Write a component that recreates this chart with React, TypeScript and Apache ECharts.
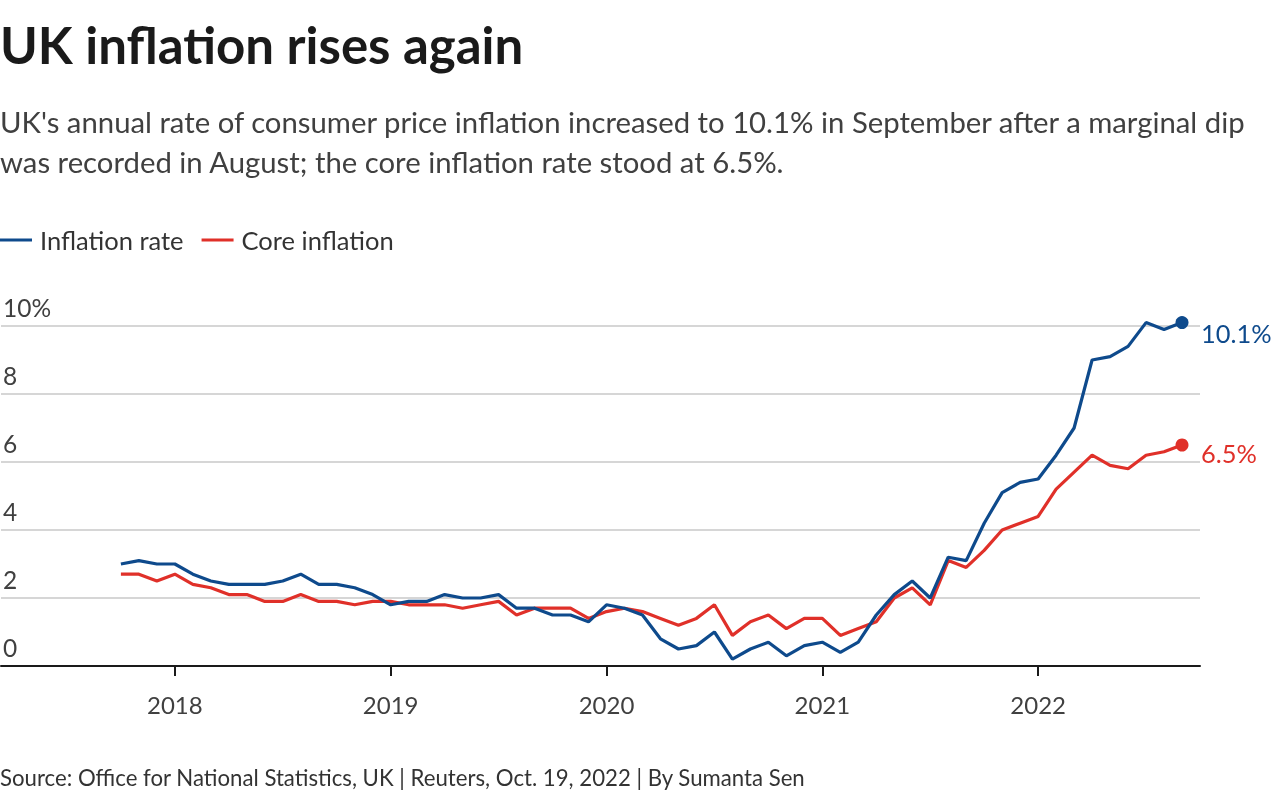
import React, { useEffect, useRef } from "react";
import * as echarts from "echarts";

const months: string[] = [
  "2017-10", "2017-11", "2017-12",
  "2018-01", "2018-02", "2018-03", "2018-04", "2018-05", "2018-06", "2018-07", "2018-08", "2018-09", "2018-10", "2018-11", "2018-12",
  "2019-01", "2019-02", "2019-03", "2019-04", "2019-05", "2019-06", "2019-07", "2019-08", "2019-09", "2019-10", "2019-11", "2019-12",
  "2020-01", "2020-02", "2020-03", "2020-04", "2020-05", "2020-06", "2020-07", "2020-08", "2020-09", "2020-10", "2020-11", "2020-12",
  "2021-01", "2021-02", "2021-03", "2021-04", "2021-05", "2021-06", "2021-07", "2021-08", "2021-09", "2021-10", "2021-11", "2021-12",
  "2022-01", "2022-02", "2022-03", "2022-04", "2022-05", "2022-06", "2022-07", "2022-08", "2022-09",
];

const inflationRate: number[] = [
  3.0, 3.1, 3.0,
  3.0, 2.7, 2.5, 2.4, 2.4, 2.4, 2.5, 2.7, 2.4, 2.4, 2.3, 2.1,
  1.8, 1.9, 1.9, 2.1, 2.0, 2.0, 2.1, 1.7, 1.7, 1.5, 1.5, 1.3,
  1.8, 1.7, 1.5, 0.8, 0.5, 0.6, 1.0, 0.2, 0.5, 0.7, 0.3, 0.6,
  0.7, 0.4, 0.7, 1.5, 2.1, 2.5, 2.0, 3.2, 3.1, 4.2, 5.1, 5.4,
  5.5, 6.2, 7.0, 9.0, 9.1, 9.4, 10.1, 9.9, 10.1,
];

const coreInflation: number[] = [
  2.7, 2.7, 2.5,
  2.7, 2.4, 2.3, 2.1, 2.1, 1.9, 1.9, 2.1, 1.9, 1.9, 1.8, 1.9,
  1.9, 1.8, 1.8, 1.8, 1.7, 1.8, 1.9, 1.5, 1.7, 1.7, 1.7, 1.4,
  1.6, 1.7, 1.6, 1.4, 1.2, 1.4, 1.8, 0.9, 1.3, 1.5, 1.1, 1.4,
  1.4, 0.9, 1.1, 1.3, 2.0, 2.3, 1.8, 3.1, 2.9, 3.4, 4.0, 4.2,
  4.4, 5.2, 5.7, 6.2, 5.9, 5.8, 6.2, 6.3, 6.5,
];

const yearTicks: number[] = [2018, 2019, 2020, 2021, 2022];
const yTickLabels: string[] = ["0", "2", "4", "6", "8", "10%"];

const BLUE = "#0e4a8c";
const RED = "#e03029";
const FONT = "Lato, 'Source Sans Pro', 'Noto Sans', sans-serif";

function toYear(m: string): number {
  const [y, mo] = m.split("-").map(Number);
  return y + (mo - 1) / 12;
}

export default function App() {
  const ref = useRef<HTMLDivElement>(null);

  useEffect(() => {
    if (!ref.current) return;
    const chart = echarts.init(ref.current, null, { renderer: "svg" });
    const xs = months.map(toYear);
    const blueData = xs.map((x, i) => [x, inflationRate[i]]);
    const redData = xs.map((x, i) => [x, coreInflation[i]]);
    const last = xs.length - 1;

    chart.setOption({
      animation: false,
      textStyle: { fontFamily: FONT },
      graphic: [
        {
          type: "text",
          left: 0,
          top: 19,
          style: { text: "UK inflation rises again", fontFamily: FONT, fontWeight: "bold", fontSize: 51, fill: "#1a1a1a" },
        },
        {
          type: "text",
          left: 0,
          top: 101,
          style: {
            text: "UK's annual rate of consumer price inflation increased to 10.1% in September after a marginal dip\nwas recorded in August; the core inflation rate stood at 6.5%.",
            fontFamily: FONT,
            fontSize: 29.3,
            lineHeight: 40,
            fill: "#404040",
          },
        },
        {
          type: "text",
          left: 0,
          top: 766,
          style: {
            text: "Source: Office for National Statistics, UK | Reuters, Oct. 19, 2022 | By Sumanta Sen",
            fontFamily: FONT,
            fontSize: 22.2,
            fill: "#333333",
          },
        },
      ],
      legend: {
        left: 0,
        top: 227,
        padding: 0,
        icon: "rect",
        itemWidth: 32,
        itemHeight: 3,
        itemGap: 18,
        textStyle: { fontFamily: FONT, fontSize: 25.5, color: "#333333", padding: [0, 0, 0, 3] },
        data: ["Inflation rate", "Core inflation"],
      },
      grid: { left: 0, right: 88, top: 326, bottom: 134, containLabel: false },
      xAxis: {
        type: "value",
        min: 2018 - 174 / 216,
        max: 2018 + (1200 - 174) / 216,
        splitLine: { show: false },
        axisLine: { show: true, lineStyle: { color: "#1a1a1a", width: 2 } },
        axisTick: { show: true, customValues: yearTicks, length: 10, lineStyle: { color: "#1a1a1a", width: 2 } },
        axisLabel: {
          customValues: yearTicks,
          formatter: (v: number) => String(Math.round(v)),
          fontFamily: FONT,
          fontSize: 24,
          color: "#404040",
          margin: 26,
        },
      },
      yAxis: {
        type: "value",
        min: 0,
        max: 10,
        interval: 2,
        axisLine: { show: false },
        axisTick: { show: false },
        splitLine: { lineStyle: { color: "#c8c8c8", width: 1.5 } },
        axisLabel: {
          inside: true,
          align: "left",
          verticalAlign: "bottom",
          margin: 0,
          padding: [0, 0, 6, 2],
          fontFamily: FONT,
          fontSize: 24.5,
          color: "#404040",
          formatter: (v: number) => yTickLabels[Math.round(v / 2)],
        },
      },
      series: [
        {
          name: "Inflation rate",
          type: "line",
          data: blueData,
          showSymbol: false,
          symbol: "none",
          clip: false,
          lineStyle: { color: BLUE, width: 3.2 },
          itemStyle: { color: BLUE },
          z: 3,
          endLabel: {
            show: true,
            formatter: () => inflationRate[last].toFixed(1) + "%",
            color: BLUE,
            fontFamily: FONT,
            fontSize: 25.4,
            distance: 19,
            offset: [0, 10],
          },
        },
        {
          name: "Core inflation",
          type: "line",
          data: redData,
          showSymbol: false,
          symbol: "none",
          clip: false,
          lineStyle: { color: RED, width: 3.2 },
          itemStyle: { color: RED },
          z: 2,
          endLabel: {
            show: true,
            formatter: () => coreInflation[last].toFixed(1) + "%",
            color: RED,
            fontFamily: FONT,
            fontSize: 25.4,
            distance: 19,
            offset: [0, 8],
          },
        },
        {
          type: "scatter",
          data: [
            { value: blueData[last], itemStyle: { color: BLUE, opacity: 1 } },
            { value: redData[last], itemStyle: { color: RED, opacity: 1 } },
          ],
          symbolSize: 13,
          clip: false,
          z: 4,
          silent: true,
        },
      ],
    });

    return () => chart.dispose();
  }, []);

  return <div ref={ref} style={{ position: "fixed", left: 0, top: 0, width: 1288, height: 800 }} />;
}
